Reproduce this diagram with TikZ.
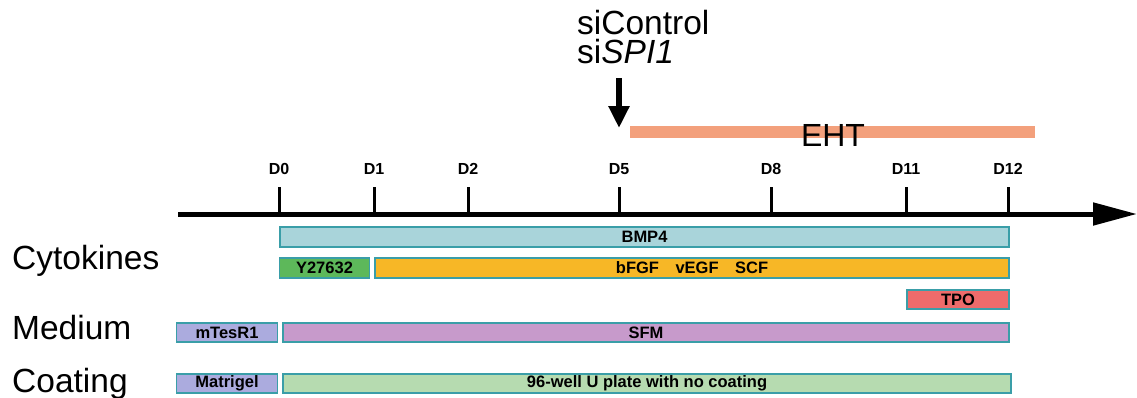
\documentclass[tikz,border=0pt]{standalone}
\usepackage{fontspec}
\setmainfont{Liberation Sans}
\usetikzlibrary{arrows.meta}
\definecolor{barline}{HTML}{3A9EA8}
\definecolor{bmpfill}{HTML}{A9D4DA}
\definecolor{yfill}{HTML}{5DB85A}
\definecolor{fgffill}{HTML}{F7B726}
\definecolor{tpofill}{HTML}{EE6B6B}
\definecolor{lavfill}{HTML}{ABABDE}
\definecolor{sfmfill}{HTML}{C79ACB}
\definecolor{coatfill}{HTML}{B6DBB0}
\definecolor{ehtfill}{HTML}{F3A07C}

\begin{document}
\begin{tikzpicture}[x=1pt, y=-1pt, every node/.style={inner sep=0pt},
	bar/.style={draw=barline, line width=1.6pt, minimum height=19.5pt, font=\fontsize{16.5}{16.5}\selectfont\bfseries},
	rowlab/.style={anchor=west, font=\fontsize{33.5}{33.5}\selectfont},
	daylab/.style={font=\fontsize{16}{16}\selectfont\bfseries}]
	\useasboundingbox (0,0) rectangle (1137,397);
	% time axis with days
	\draw[line width=5pt, -{Triangle[length=44pt, width=22pt]}] (178,214) -- (1137,214);
	\foreach \d/\x in {0/279, 1/374, 2/468, 5/619, 8/771, 11/906, 12/1008} {
		\draw[line width=3pt] (\x,187) -- (\x,214);
		\node[daylab] (d\d) at (\x,169) {D\d};
	}
	% transfection
	\node[anchor=north west, align=left, font=\fontsize{33.5}{29}\selectfont] (sirna) at (577,10.5) {siControl\\si\textit{SPI1}};
	\coordinate (hit) at (619,128);
	\draw[line width=6pt, -{Triangle[length=22pt, width=20pt]}] (619,78) -- (hit);
	% EHT window
	\fill[ehtfill] (630,125.5) rectangle (1035,138);
	\node[font=\fontsize{32}{32}\selectfont, anchor=base] (eht) at (833,146) {EHT};
	% row labels
	\node[rowlab, anchor=base west] (cyto) at (12,269) {Cytokines};
	\node[rowlab, anchor=base west] (medium) at (12,339) {Medium};
	\node[rowlab, anchor=base west] (coating) at (12,392) {Coating};
	% cytokines
	\node[bar, fill=bmpfill, minimum width=729pt] (bmp4) at (644.5,237) {BMP4};
	\node[bar, fill=yfill, minimum width=90pt] (y27) at (324.5,268) {Y27632};
	\node[bar, fill=fgffill, minimum width=634pt] (fgf) at (692,268) {bFGF\quad vEGF\quad SCF};
	\node[bar, fill=tpofill, minimum width=102pt] (tpo) at (958,299.5) {TPO};
	% medium
	\node[bar, fill=lavfill, minimum width=101pt] (mtesr) at (227,332.5) {mTesR1};
	\node[bar, fill=sfmfill, minimum width=726pt] (sfm) at (646,332.5) {SFM};
	% coating
	\node[bar, fill=lavfill, minimum width=101pt] (matrigel) at (227,383.5) {Matrigel};
	\node[bar, fill=coatfill, minimum width=728pt] (noplate) at (647,383.5) {96-well U plate with no coating};
\end{tikzpicture}
\end{document}
